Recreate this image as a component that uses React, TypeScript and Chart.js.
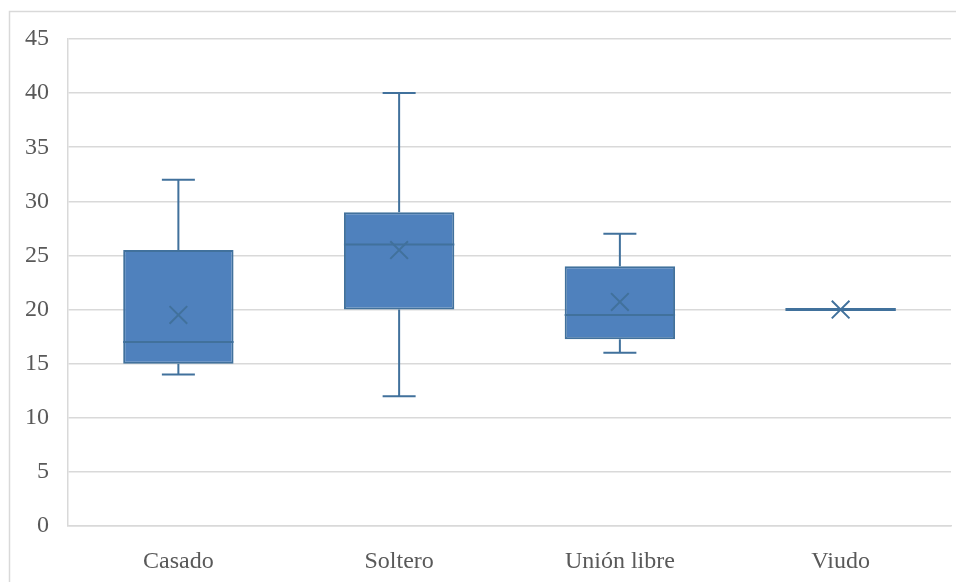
import React, { useEffect, useRef } from 'react';
import { Chart, registerables } from 'chart.js';

Chart.register(...registerables);

const categories = ['Casado', 'Soltero', 'Unión libre', 'Viudo'];
const minValues = [14, 12, 16, 20];
const q1Values = [15, 20, 17.25, 20];
const medianValues = [17, 26, 19.5, 20];
const q3Values = [25.5, 29, 24, 20];
const maxValues = [32, 40, 27, 20];
const meanValues = [19.5, 25.5, 20.7, 20];
const yMin = 0;
const yMax = 45;
const yStep = 5;

const FONT = "'Liberation Serif', 'Times New Roman', serif";
const TEXT = '#595959';
const GRID = '#D9D9D9';
const FILL = '#4F81BD';
const EDGE = '#41719C';

const framePlugin = {
  id: 'frame',
  beforeDraw(chart: any) {
    const ctx = chart.ctx;
    ctx.save();
    ctx.strokeStyle = GRID;
    ctx.lineWidth = 1.5;
    ctx.beginPath();
    ctx.moveTo(9.5, chart.height);
    ctx.lineTo(9.5, 11.5);
    ctx.lineTo(chart.width, 11.5);
    ctx.stroke();
    ctx.restore();
  },
};

const whiskerPlugin = {
  id: 'whiskers',
  afterDatasetsDraw(chart: any) {
    const ctx = chart.ctx;
    const yScale = chart.scales.y;
    const meta = chart.getDatasetMeta(1);
    ctx.save();
    ctx.strokeStyle = EDGE;
    ctx.lineWidth = 2;
    meta.data.forEach((bar: any, i: number) => {
      const x = bar.x;
      const half = bar.width / 2;
      const cap = 16.5;
      const yMinP = yScale.getPixelForValue(minValues[i]);
      const yQ1 = yScale.getPixelForValue(q1Values[i]);
      const yMed = yScale.getPixelForValue(medianValues[i]);
      const yQ3 = yScale.getPixelForValue(q3Values[i]);
      const yMaxP = yScale.getPixelForValue(maxValues[i]);
      ctx.beginPath();
      if (maxValues[i] > q3Values[i]) {
        ctx.moveTo(x, yQ3);
        ctx.lineTo(x, yMaxP);
        ctx.moveTo(x - cap, yMaxP);
        ctx.lineTo(x + cap, yMaxP);
      }
      if (minValues[i] < q1Values[i]) {
        ctx.moveTo(x, yQ1);
        ctx.lineTo(x, yMinP);
        ctx.moveTo(x - cap, yMinP);
        ctx.lineTo(x + cap, yMinP);
      }
      ctx.stroke();
      ctx.beginPath();
      ctx.lineWidth = q1Values[i] === q3Values[i] ? 3 : 2;
      ctx.moveTo(x - half, yMed);
      ctx.lineTo(x + half, yMed);
      ctx.stroke();
      ctx.lineWidth = 2;
    });
    ctx.restore();
  },
};

export default function App() {
  const ref = useRef<HTMLCanvasElement>(null);

  useEffect(() => {
    if (!ref.current) return;
    const chart = new Chart(ref.current, {
      type: 'bar',
      data: {
        labels: categories,
        datasets: [
          {
            type: 'line',
            label: 'Media',
            data: meanValues,
            showLine: false,
            pointStyle: 'crossRot',
            pointRadius: 12.5,
            pointBorderWidth: 2,
            borderColor: EDGE,
            backgroundColor: EDGE,
            order: 0,
          } as any,
          {
            type: 'bar',
            label: 'Caja',
            data: categories.map((_, i) => [q1Values[i], q3Values[i]]),
            backgroundColor: FILL,
            borderColor: EDGE,
            borderWidth: 2,
            borderSkipped: false,
            categoryPercentage: 1,
            barPercentage: 0.5,
            order: 1,
          } as any,
        ],
      },
      options: {
        animation: false,
        responsive: false,
        maintainAspectRatio: false,
        layout: { autoPadding: false, padding: { top: 39, right: 5, left: 0, bottom: 0 } },
        plugins: {
          legend: { display: false },
          tooltip: { enabled: false },
          title: { display: false },
        },
        scales: {
          x: {
            grid: { display: false, drawTicks: false },
            border: { display: true, color: GRID, width: 1.5 },
            ticks: {
              color: TEXT,
              font: { family: FONT, size: 24 },
              padding: 21,
            },
            afterFit(scale: any) {
              scale.height = 56;
              scale.paddingLeft = 0;
              scale.paddingRight = 0;
            },
          },
          y: {
            min: yMin,
            max: yMax,
            ticks: {
              stepSize: yStep,
              color: TEXT,
              font: { family: FONT, size: 24 },
              padding: 19,
            },
            grid: { color: GRID, lineWidth: 1.5, drawTicks: false },
            border: { display: true, color: GRID, width: 1.5 },
            afterFit(scale: any) {
              scale.width = 68;
              scale.paddingTop = 0;
              scale.paddingBottom = 0;
            },
          },
        },
      },
      plugins: [framePlugin, whiskerPlugin],
    });
    return () => chart.destroy();
  }, []);

  return (
    <div style={{ position: 'absolute', left: 0, top: 0, width: 956, height: 582, background: '#fff' }}>
      <canvas ref={ref} width={956} height={582} />
    </div>
  );
}
